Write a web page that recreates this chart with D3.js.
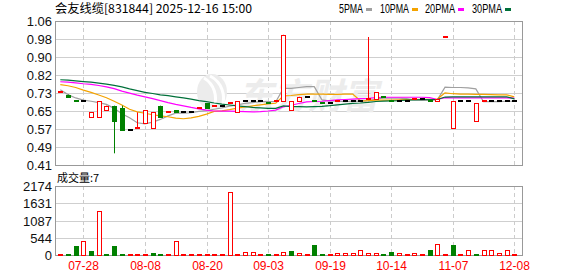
<!DOCTYPE html>
<html>
<head>
<meta charset="utf-8">
<script src="https://cdn.jsdelivr.net/npm/d3@7"></script>
<style>
  body { margin: 0; background: #fff; }
  svg { display: block; }
</style>
</head>
<body>
<div id="chart"></div>
<script>
// chart data
const title = '会友线缆[831844] 2025-12-16 15:00';
const volTitle = '成交量:7';
const dateLabels = ['07-28', '08-08', '08-20', '09-03', '09-19', '10-14', '11-07', '12-08'];
const dateIndex = [3, 11, 19, 27, 35, 43, 51, 59];
const priceTickLabels = ['0.41', '0.49', '0.57', '0.65', '0.73', '0.82', '0.90', '0.98', '1.06'];
const priceMin = 0.41, priceMax = 1.06;
const volTicks = [0, 544, 1087, 1631, 2174];
const prevClose = 0.73;

const opens = [0.74,0.73,0.70,0.70,0.63,0.63,0.66,0.68,0.67,0.57, 0.58,0.60,0.58,0.68,0.65,0.66,0.65,0.65,0.67,0.69,
  0.68,0.68,0.69,0.65,0.70,0.70,0.70,0.69,0.70,0.70, 0.66,0.70,0.72,0.70,0.69,0.69,0.70,0.70,0.70,0.70,
  0.71,0.71,0.72,0.70,0.70,0.70,0.71,0.71,0.70,0.70, 0.99,0.58,0.70,0.70,0.61,0.70,0.70,0.70,0.70,0.70];
const highs = [0.74,0.73,0.70,0.70,0.65,0.70,0.68,0.68,0.68,0.57, 0.65,0.66,0.65,0.68,0.65,0.66,0.65,0.65,0.67,0.69,
  0.68,0.68,0.69,0.70,0.70,0.70,0.70,0.69,0.70,1.00, 0.70,0.72,0.72,0.70,0.69,0.69,0.70,0.70,0.70,0.70,
  0.99,0.74,0.72,0.70,0.70,0.70,0.71,0.71,0.70,0.71, 0.99,0.70,0.70,0.70,0.69,0.70,0.70,0.70,0.70,0.70];
const lows = [0.74,0.72,0.70,0.70,0.63,0.63,0.66,0.465,0.57,0.57, 0.58,0.60,0.58,0.63,0.65,0.65,0.65,0.65,0.67,0.67,
  0.68,0.68,0.69,0.65,0.70,0.70,0.70,0.69,0.70,0.70, 0.66,0.70,0.72,0.70,0.69,0.69,0.70,0.70,0.70,0.70,
  0.71,0.71,0.72,0.70,0.70,0.70,0.71,0.71,0.70,0.70, 0.99,0.58,0.70,0.70,0.61,0.70,0.70,0.70,0.70,0.70];
const closes = [0.74,0.72,0.70,0.70,0.65,0.70,0.68,0.61,0.57,0.57, 0.58,0.66,0.65,0.63,0.65,0.65,0.65,0.65,0.67,0.67,
  0.68,0.68,0.69,0.70,0.70,0.70,0.70,0.69,0.70,1.00, 0.70,0.72,0.72,0.70,0.69,0.69,0.70,0.70,0.70,0.70,
  0.71,0.74,0.72,0.70,0.70,0.70,0.71,0.71,0.70,0.71, 0.99,0.70,0.70,0.70,0.69,0.70,0.70,0.70,0.70,0.70];
const volumes = [15,15,280,440,130,1380,20,280,25,10, 10,10,60,15,10,440,10,10,10,10,
  10,10,2000,10,100,100,10,15,10,100, 125,75,15,330,20,15,75,75,75,170,
  75,75,20,85,75,20,55,20,170,360, 20,300,20,170,20,170,150,55,170,7];

const ma5 = [0.752,0.730,0.715,0.705,0.700,0.694,0.686,0.668,0.644,0.626, 0.603,0.598,0.606,0.618,0.634,0.646,0.646,0.648,0.654,0.658,
  0.664,0.670,0.678,0.684,0.690,0.694,0.698,0.698,0.698,0.758, 0.758,0.762,0.766,0.766,0.706,0.702,0.700,0.698,0.700,0.700,
  0.702,0.710,0.714,0.714,0.714,0.712,0.706,0.704,0.704,0.706, 0.764,0.762,0.762,0.760,0.756,0.698,0.698,0.698,0.700,0.700];
const ma10 = [0.775,0.770,0.762,0.750,0.740,0.728,0.716,0.700,0.683,0.664, 0.652,0.646,0.639,0.634,0.630,0.624,0.621,0.625,0.632,0.642,
  0.654,0.657,0.662,0.669,0.674,0.679,0.684,0.688,0.691,0.724, 0.726,0.730,0.732,0.732,0.732,0.731,0.731,0.732,0.732,0.702,
  0.703,0.705,0.705,0.705,0.706,0.707,0.708,0.709,0.709,0.710, 0.738,0.734,0.732,0.732,0.731,0.731,0.730,0.729,0.729,0.720];
const ma20 = [0.788,0.786,0.783,0.779,0.776,0.771,0.765,0.757,0.746,0.737, 0.728,0.720,0.712,0.703,0.694,0.686,0.679,0.672,0.666,0.660,
  0.656,0.655,0.655,0.654,0.653,0.652,0.653,0.656,0.660,0.675, 0.682,0.690,0.697,0.699,0.700,0.703,0.706,0.708,0.710,0.712,
  0.713,0.716,0.718,0.718,0.718,0.718,0.718,0.718,0.716,0.708, 0.716,0.715,0.715,0.715,0.715,0.715,0.715,0.715,0.715,0.714];
const ma30 = [0.797,0.795,0.792,0.789,0.786,0.782,0.777,0.772,0.765,0.756, 0.748,0.740,0.735,0.729,0.725,0.720,0.715,0.710,0.703,0.698,
  0.692,0.687,0.683,0.679,0.676,0.672,0.670,0.668,0.668,0.679, 0.676,0.676,0.675,0.676,0.677,0.680,0.684,0.687,0.690,0.692,
  0.695,0.699,0.701,0.702,0.703,0.705,0.706,0.707,0.708,0.708, 0.719,0.720,0.720,0.720,0.720,0.720,0.720,0.720,0.720,0.711];

const maNames = ['5PMA', '10PMA', '20PMA', '30PMA'];
const maSeries = [ma5, ma10, ma20, ma30];
const maColors = ['#a0a0a0', '#f4a300', '#ff00ff', '#00703a'];

const RED = '#ff0000', GREEN = '#008000', BLACK = '#000000';

// layout
const width = 578, height = 276;
const plotLeft = 55, plotRight = 522;
const priceTop = 21, priceBottom = 165;
const volTop = 186, volBottom = 255;

const svg = d3.select('#chart').append('svg')
  .attr('width', width).attr('height', height);

const xScale = d3.scaleLinear().domain([0, 59]).range([60.3, 514.3]);
const yScale = d3.scaleLinear().domain([priceMin, priceMax]).range([priceBottom + 0.5, priceTop + 0.5]);
const vScale = d3.scaleLinear().domain([0, 2174]).range([volBottom + 0.5, volTop + 0.5]);
const crisp = v => Math.round(v - 0.5) + 0.5;

const priceTicks = priceTickLabels.map((d, i) => priceMin + i * (priceMax - priceMin) / 8);

// grid: horizontal
svg.append('g').selectAll('line').data(priceTicks).join('line')
  .attr('x1', plotLeft).attr('x2', plotRight)
  .attr('y1', d => crisp(yScale(d))).attr('y2', d => crisp(yScale(d)))
  .attr('stroke', '#cfcfcf');
svg.append('g').selectAll('line').data(volTicks).join('line')
  .attr('x1', plotLeft).attr('x2', plotRight)
  .attr('y1', d => crisp(vScale(d))).attr('y2', d => crisp(vScale(d)))
  .attr('stroke', '#cfcfcf');

// grid: vertical dashed
[[priceTop, priceBottom], [volTop, volBottom]].forEach(([t, b]) => {
  svg.append('g').selectAll('line').data(dateIndex).join('line')
    .attr('x1', d => Math.round(xScale(d)) + 0.5).attr('x2', d => Math.round(xScale(d)) + 0.5)
    .attr('y1', t).attr('y2', b)
    .attr('stroke', '#cccccc').attr('stroke-dasharray', '4,3');
});

// watermark
const wm = svg.append('g').attr('fill', '#ececec');
wm.append('ellipse').attr('cx', 212).attr('cy', 92).attr('rx', 15).attr('ry', 18);
wm.append('path').attr('d', 'M204,78 C214,84 218,96 214,108 M210,76 C222,82 226,96 222,106')
  .attr('fill', 'none').attr('stroke', '#fff').attr('stroke-width', 3);
wm.append('text').attr('x', 238).attr('y', 109)
  .attr('font-family', 'Noto Sans CJK SC').attr('font-weight', 'bold').attr('font-style', 'italic')
  .attr('font-size', 36).attr('textLength', 140).attr('lengthAdjust', 'spacingAndGlyphs')
  .text('东方财富');

// borders
svg.append('rect').attr('x', plotLeft + 0.5).attr('y', priceTop + 0.5)
  .attr('width', plotRight - plotLeft).attr('height', priceBottom - priceTop)
  .attr('fill', 'none').attr('stroke', '#999');
svg.append('rect').attr('x', plotLeft + 0.5).attr('y', volTop + 0.5)
  .attr('width', plotRight - plotLeft).attr('height', volBottom - volTop)
  .attr('fill', 'none').attr('stroke', '#999');

const candles = opens.map((o, i) => ({
  i, o, h: highs[i], l: lows[i], c: closes[i],
  pc: i === 0 ? prevClose : closes[i - 1], v: volumes[i]
}));
const flatColor = d => d.c > d.pc ? RED : d.c < d.pc ? GREEN : BLACK;

// moving averages (under the candles)
const line = d3.line().x((d, i) => xScale(i)).y(d => yScale(d));
svg.append('g').selectAll('path').data(maSeries).join('path')
  .attr('d', line)
  .attr('fill', 'none')
  .attr('stroke', (d, i) => maColors[i])
  .attr('stroke-width', 1.2);

// candles
const cg = svg.append('g');
candles.forEach(d => {
  const cx = Math.round(xScale(d.i));
  const yh = yScale(d.h), yl = yScale(d.l);
  const col = d.c > d.o ? RED : d.c < d.o ? GREEN : flatColor(d);
  if (yl - yh > 1) {
    cg.append('line').attr('x1', cx + 0.5).attr('x2', cx + 0.5)
      .attr('y1', yh).attr('y2', yl).attr('stroke', col);
  }
  if (d.c === d.o) {
    cg.append('rect').attr('x', cx - 2).attr('y', Math.round(yScale(d.c)) - 1)
      .attr('width', 5).attr('height', 2).attr('fill', col);
  } else if (d.c > d.o) {
    const top = Math.round(yScale(d.c)), bot = Math.round(yScale(d.o));
    cg.append('rect').attr('x', cx - 1.5).attr('y', top + 0.5)
      .attr('width', 4).attr('height', bot - top)
      .attr('fill', '#fff').attr('stroke', RED);
  } else {
    const top = Math.round(yScale(d.o)), bot = Math.round(yScale(d.c));
    cg.append('rect').attr('x', cx - 2).attr('y', top)
      .attr('width', 5).attr('height', bot - top + 1).attr('fill', GREEN);
  }
});

// volume bars
const vg = svg.append('g');
candles.forEach(d => {
  const cx = Math.round(xScale(d.i));
  const up = d.c >= d.pc;
  const h = Math.max(1, Math.round(vScale(0) - vScale(d.v)));
  if (up) {
    vg.append('rect').attr('x', cx - 1.5).attr('y', volBottom - h + 0.5)
      .attr('width', 4).attr('height', h)
      .attr('fill', '#fff').attr('stroke', RED);
  } else {
    vg.append('rect').attr('x', cx - 2).attr('y', volBottom - h)
      .attr('width', 5).attr('height', h + 1).attr('fill', GREEN);
  }
});

// y axis labels
const axisFont = 'Liberation Sans, Arial, sans-serif';
svg.append('g').selectAll('text').data(priceTicks).join('text')
  .attr('x', 52).attr('y', d => yScale(d) + 4.5)
  .attr('text-anchor', 'end').attr('font-family', axisFont).attr('font-size', 13)
  .attr('fill', '#111').text((d, i) => priceTickLabels[i]);
svg.append('g').selectAll('text').data(volTicks).join('text')
  .attr('x', 52).attr('y', d => vScale(d) + 4.5)
  .attr('text-anchor', 'end').attr('font-family', axisFont).attr('font-size', 13)
  .attr('fill', '#111').text(d => d);

// date labels
svg.append('g').selectAll('text').data(dateIndex).join('text')
  .attr('x', d => Math.round(xScale(d)) + 0.5).attr('y', 270)
  .attr('text-anchor', 'middle').attr('font-family', axisFont).attr('font-size', 12)
  .attr('fill', RED).text((d, i) => dateLabels[i]);

// title
svg.append('text').attr('x', 55).attr('y', 12.5)
  .attr('font-family', 'Noto Sans CJK SC').attr('font-size', 12)
  .attr('textLength', 197).attr('lengthAdjust', 'spacingAndGlyphs')
  .attr('fill', '#000').text(title);

svg.append('text').attr('x', 57).attr('y', 182)
  .attr('font-family', 'Noto Sans CJK SC').attr('font-size', 11)
  .attr('fill', '#000').text(volTitle);

// legend
const legendX = [339, 380, 425, 472];
const legendW = [24, 29, 30, 30];
const lg = svg.append('g').selectAll('g').data(maNames).join('g');
lg.append('text').attr('x', (d, i) => legendX[i]).attr('y', 12.5)
  .attr('font-family', axisFont).attr('font-size', 12)
  .attr('textLength', (d, i) => legendW[i]).attr('lengthAdjust', 'spacingAndGlyphs')
  .attr('fill', '#000').text(d => d);
lg.append('rect').attr('x', (d, i) => legendX[i] + legendW[i] + 3).attr('y', 8)
  .attr('width', 6).attr('height', 3).attr('fill', (d, i) => maColors[i]);
</script>
</body>
</html>
